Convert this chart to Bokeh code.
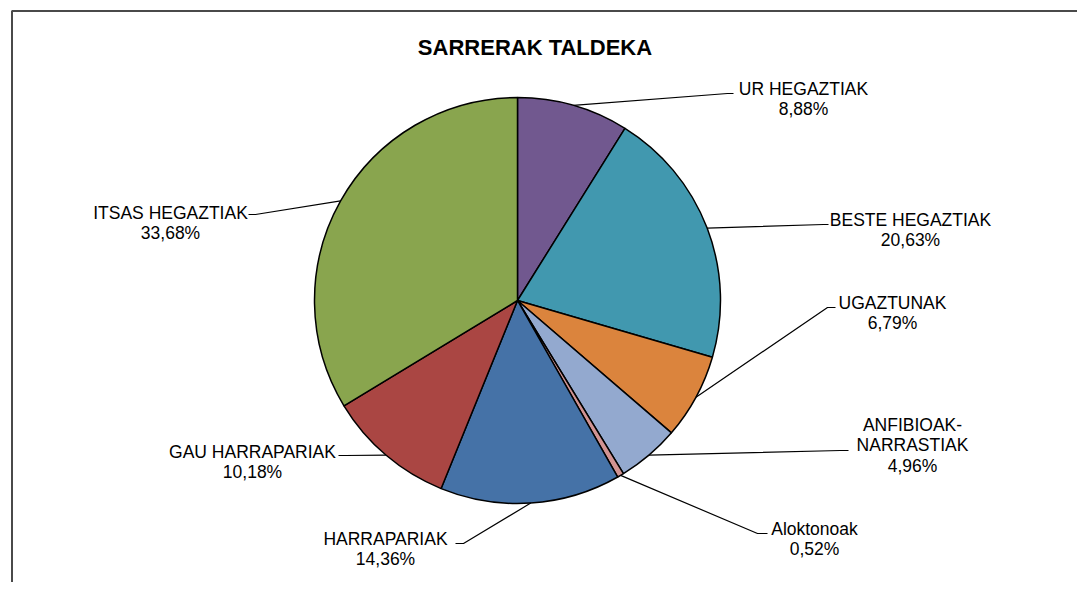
import math
from bokeh.plotting import figure
from bokeh.models import Range1d, ColumnDataSource
from bokeh.core.properties import value
from bokeh.embed import file_html
from bokeh.resources import INLINE

# ---- data ----
categories = ["UR HEGAZTIAK", "BESTE HEGAZTIAK", "UGAZTUNAK", "ANFIBIOAK-NARRASTIAK",
              "Aloktonoak", "HARRAPARIAK", "GAU HARRAPARIAK", "ITSAS HEGAZTIAK"]
label_names = [["UR HEGAZTIAK"], ["BESTE HEGAZTIAK"], ["UGAZTUNAK"], ["ANFIBIOAK-", "NARRASTIAK"],
               ["Aloktonoak"], ["HARRAPARIAK"], ["GAU HARRAPARIAK"], ["ITSAS HEGAZTIAK"]]
percents = [8.88, 20.63, 6.79, 4.96, 0.52, 14.36, 10.18, 33.68]
colors = ["#71588F", "#4198AF", "#DB843D", "#93A9CF", "#D19392", "#4572A7", "#AA4643", "#89A54E"]
title = "SARRERAK TALDEKA"

# ---- layout (page pixel coordinates) ----
W, H = 1077, 582
def Y(py):
    return H - py

cx, cy, R = 517, 300, 203
# label layout: (elbow x, elbow y, end x, end y, text center x, first line y)
label_layout = [
    (727, 93, 733, 93, 803, 88),
    (823, 224, 828, 224, 910, 219),
    (827, 307, 835, 307, 892, 302),
    (840, 450, 848, 450, 912, 424),
    (757, 533, 767, 533, 814, 528),
    (463, 543, 455, 543, 385, 538),
    (345, 455, 338, 455, 252, 451),
    (255, 214, 248, 214, 170, 212),
]
LINE_H = 20.5

p = figure(width=W, height=H, output_backend="svg", toolbar_location=None,
           x_range=Range1d(0, W), y_range=Range1d(0, H),
           min_border=0, outline_line_color=None, background_fill_color="white",
           border_fill_color="white")
p.axis.visible = False
p.grid.visible = False

# border of chart area
p.line(x=[11.5, 11.5, W + 20], y=[Y(H + 20), Y(10.5), Y(10.5)], line_color="#4a4a4a", line_width=2)

# wedges
total = sum(percents)
starts, ends, mids = [], [], []
cum = 0.0
for v in percents:
    a0 = math.pi / 2 - 2 * math.pi * cum / total
    cum += v
    a1 = math.pi / 2 - 2 * math.pi * cum / total
    starts.append(a0)
    ends.append(a1)
    mids.append((a0 + a1) / 2)

src = ColumnDataSource(dict(start=starts, end=ends, color=colors, name=categories))
p.wedge(x=cx, y=Y(cy), radius=R, radius_units="screen", start_angle="start", end_angle="end",
        direction="clock", fill_color="color", line_color="black", line_width=1.5, source=src)

font = value("Liberation Sans")
tx, ty, tt = [], [], []
lx, ly = [], []
for i, (ex, ey, nx, ny, tcx, t0) in enumerate(label_layout):
    sx = cx + R * math.cos(mids[i])
    sy = Y(cy) + R * math.sin(mids[i])
    lx.append([sx, ex, nx])
    ly.append([sy, Y(ey), Y(ny)])
    lines = label_names[i] + [("%.2f" % percents[i]).replace(".", ",") + "%"]
    for k, s in enumerate(lines):
        tx.append(tcx)
        ty.append(Y(t0 + k * LINE_H))
        tt.append(s)

p.multi_line(xs=lx, ys=ly, line_color="black", line_width=1.2)
p.text(x=tx, y=ty, text=tt, text_align="center", text_baseline="middle",
       text_font=font, text_font_size="17.5px", text_color="black")

p.text(x=[534.5], y=[Y(47)], text=[title], text_align="center", text_baseline="middle",
       text_font=font, text_font_size="22px", text_font_style="bold", text_color="black")

open("out.html", "w").write(file_html(p, INLINE))
